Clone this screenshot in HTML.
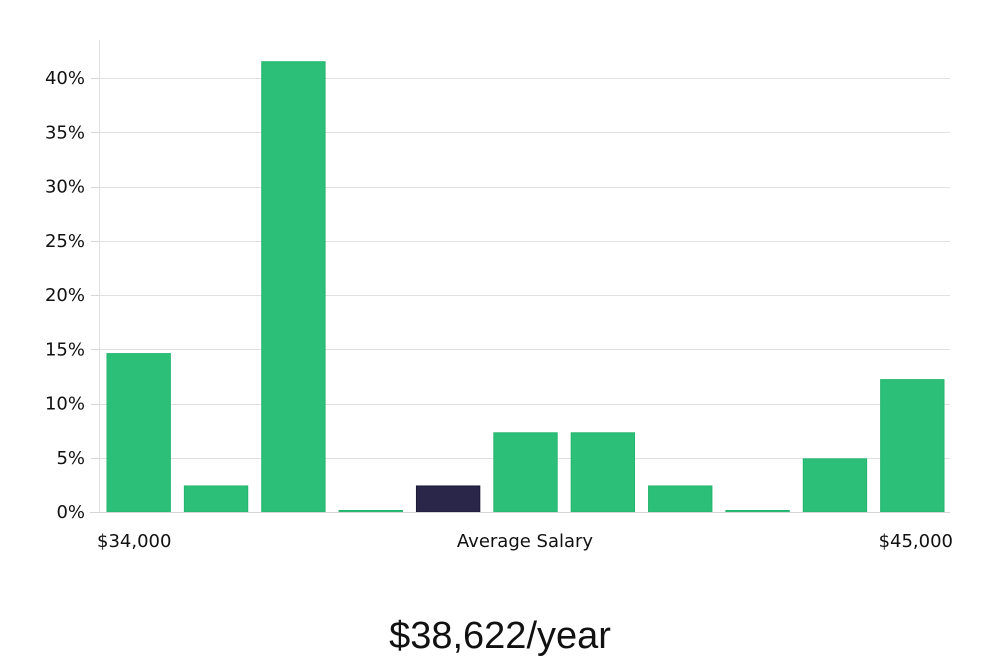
<!DOCTYPE html>
<html><head><meta charset="utf-8">
<style>
html,body{margin:0;padding:0;background:#fff;}
body{width:1000px;height:660px;overflow:hidden;font-family:"DejaVu Sans","Liberation Sans",sans-serif;}
</style></head>
<body>
<svg id="chart" width="1000" height="660" xmlns="http://www.w3.org/2000/svg">
  <g id="grid"></g>
  <line x1="99.5" y1="40" x2="99.5" y2="512" stroke="#e0e0e0" stroke-width="1"/>
  <g id="yticks"></g>
  <g id="bars"></g>
  <line x1="90" y1="512.5" x2="950" y2="512.5" stroke="#d6d6d6" stroke-width="1"/>
  <text x="97" y="547" font-size="18" fill="#111">$34,000</text>
  <text x="525" y="547" font-size="18" fill="#111" text-anchor="middle">Average Salary</text>
  <text x="953" y="547" font-size="18" fill="#111" text-anchor="end">$45,000</text>
  <text x="500" y="648" font-size="38" fill="#111" text-anchor="middle" font-family="Liberation Sans, sans-serif" font-weight="300">$38,622/year</text>
</svg>
<script>
const categories = ["b1","b2","b3","b4","b5","b6","b7","b8","b9","b10","b11"];
const values = [14.6, 2.4, 41.5, 0, 2.4, 7.3, 7.3, 2.4, 0, 4.9, 12.2];
const highlight = [false,false,false,false,true,false,false,false,false,false,false];
const yTicks = [0,5,10,15,20,25,30,35,40];
const yTickLabels = ["0%","5%","10%","15%","20%","25%","30%","35%","40%"];

const NS = "http://www.w3.org/2000/svg";
const plotL = 99, plotR = 950, y0 = 512, pxPer = (512-78)/40;
function yScale(v){ return y0 - v*pxPer; }
const band = (plotR-plotL)/categories.length;
function xScale(i){ return plotL + i*band; }

const grid = document.getElementById("grid");
const yt = document.getElementById("yticks");
yTicks.forEach((t,i)=>{
  const y = Math.round(yScale(t))+0.5;
  if(t>0){
    const l = document.createElementNS(NS,"line");
    
    
    l.setAttribute("x1",plotL); l.setAttribute("x2",plotR);
    l.setAttribute("y1",y); l.setAttribute("y2",y);
    l.setAttribute("stroke","#e0e0e0");
    grid.appendChild(l);
  }
  const tk = document.createElementNS(NS,"line");
  
  
  tk.setAttribute("x1",91); tk.setAttribute("x2",99);
  tk.setAttribute("y1",y); tk.setAttribute("y2",y);
  tk.setAttribute("stroke","#d6d6d6");
  yt.appendChild(tk);
  const tx = document.createElementNS(NS,"text");
  
  
  tx.setAttribute("x",85); tx.setAttribute("y",yScale(t)+6);
  tx.setAttribute("text-anchor","end"); tx.setAttribute("font-size","18");
  tx.setAttribute("fill","#111");
  tx.textContent = yTickLabels[i];
  yt.appendChild(tx);
});

const bars = document.getElementById("bars");
values.forEach((v,i)=>{
  const r = document.createElementNS(NS,"rect");
  
  
  const x = xScale(i)+8, w = band-14;
  const top = Math.min(yScale(v), y0-1.5);
  r.setAttribute("x",x); r.setAttribute("width",w);
  r.setAttribute("y",top); r.setAttribute("height",y0-top);
  r.setAttribute("fill",highlight[i]?"#2a264a":"#2bbf78");
  r.setAttribute("stroke",highlight[i]?"#1d1a38":"#24b56e");
  r.setAttribute("stroke-width","1");
  bars.appendChild(r);
});
</script>
</body></html>
